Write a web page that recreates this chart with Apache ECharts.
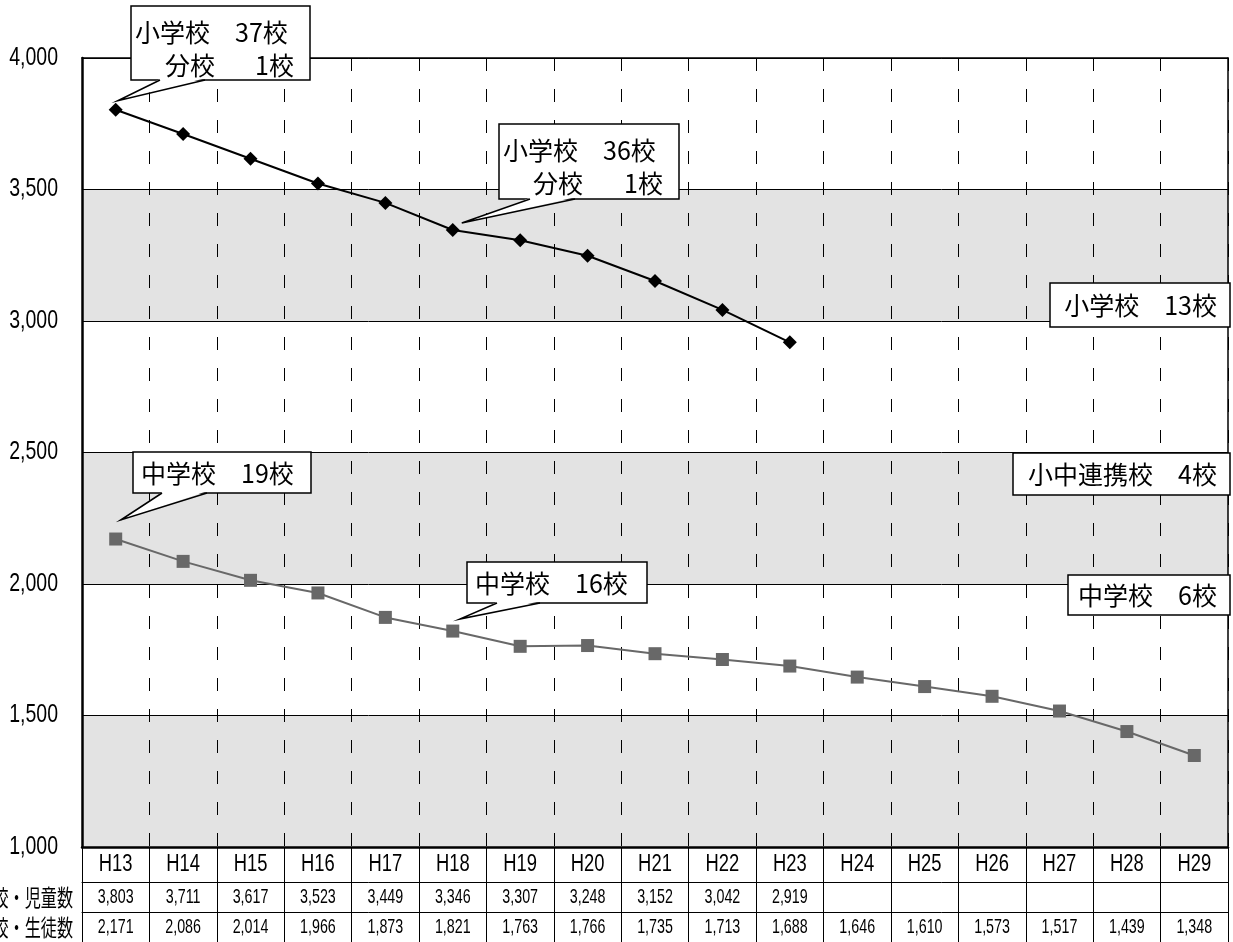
<!DOCTYPE html>
<html>
<head>
<meta charset="utf-8">
<script src="https://cdn.jsdelivr.net/npm/echarts@6/dist/echarts.min.js"></script>
<style>
  html, body { margin: 0; padding: 0; background: #fff; }
  #chart { width: 1233px; height: 942px; }
</style>
</head>
<body>
<div id="chart"></div>
<script>
// 年度
const categories = ['H13', 'H14', 'H15', 'H16', 'H17', 'H18', 'H19', 'H20', 'H21',
  'H22', 'H23', 'H24', 'H25', 'H26', 'H27', 'H28', 'H29']
// 小学校・児童数 (H23まで)
const pupils = [3803, 3711, 3617, 3523, 3449, 3346, 3307, 3248, 3152, 3042, 2919]
// 中学校・生徒数
const students = [2171, 2086, 2014, 1966, 1873, 1821, 1763, 1766, 1735, 1713, 1688,
  1646, 1610, 1573, 1517, 1439, 1348]
const rowNames = ['小学校・児童数', '中学校・生徒数']
const yMin = 1000
const yMax = 4000
const yStep = 500

const NUM = "'Liberation Sans', Arial, sans-serif"
const JP = "'Noto Sans CJK JP', sans-serif"
const fmt = v => (v === undefined || v === null) ? '' : Number(v).toLocaleString('en-US')

const dom = document.getElementById('chart')
const myChart = echarts.init(dom, null, { renderer: 'canvas' })

const lineAxis = (offset, position, width) => ({
  type: 'category',
  position: position,
  offset: offset,
  boundaryGap: true,
  data: categories,
  axisLine: { show: true, lineStyle: { color: '#000', width: width } },
  axisTick: { show: false },
  axisLabel: { show: false },
  splitLine: { show: false },
})

const option = {
  animation: false,
  backgroundColor: '#fff',
  grid: { left: 82, right: 5, top: 58, bottom: 95, show: false },
  xAxis: [
    {
      type: 'category',
      position: 'bottom',
      boundaryGap: true,
      data: categories,
      axisLine: { show: true, lineStyle: { color: '#000', width: 2.5 } },
      axisTick: { show: true, interval: 0, length: 95, lineStyle: { color: '#000', width: 1 } },
      axisLabel: { show: false },
      splitLine: { show: true, interval: 0, lineStyle: { color: '#000', width: 1, type: [13, 18] } },
    },
    lineAxis(35, 'bottom', 1),
    lineAxis(65, 'bottom', 1),
    lineAxis(0, 'top', 1.5),
  ],
  yAxis: [
    {
      type: 'value',
      min: yMin,
      max: yMax,
      interval: yStep,
      axisLine: { show: true, lineStyle: { color: '#000', width: 2.5 } },
      axisTick: { show: false },
      axisLabel: { show: false },
      splitLine: { show: true, lineStyle: { color: '#000', width: 1 } },
      splitArea: { show: true, areaStyle: { color: ['#e3e3e3', '#ffffff'] } },
    },
    {
      type: 'value',
      position: 'right',
      min: yMin,
      max: yMax,
      interval: yStep,
      axisLine: { show: true, lineStyle: { color: '#000', width: 1.5 } },
      axisTick: { show: false },
      axisLabel: { show: false },
      splitLine: { show: false },
    },
  ],
  series: [
    {
      name: '小学校・児童数',
      type: 'line',
      data: pupils,
      symbol: 'diamond',
      symbolSize: 14,
      itemStyle: { color: '#000' },
      lineStyle: { color: '#000', width: 2 },
      z: 5,
    },
    {
      name: '中学校・生徒数',
      type: 'line',
      data: students,
      symbol: 'rect',
      symbolSize: 13,
      itemStyle: { color: '#686868' },
      lineStyle: { color: '#686868', width: 2 },
      z: 5,
    },
  ],
}
myChart.setOption(option, true)

// 吹き出し (先端の位置はデータ点から)
const callouts = [
  { s: 0, i: 0, tip: [2, -9], box: [131, 6, 179, 74], base: [160, 205],
    texts: [['小学校　37校', 4, 26, 'left'], ['分校', 84, 59, 'right'], ['1校', 163, 59, 'right']] },
  { s: 0, i: 5, tip: [9, -7], box: [499, 124, 180, 75], base: [530, 575],
    texts: [['小学校　36校', 4, 26, 'left'], ['分校', 84, 59, 'right'], ['1校', 164, 59, 'right']] },
  { s: 1, i: 0, tip: [5, -19], box: [133, 452, 178, 41], base: [162, 207],
    texts: [['中学校　19校', 8, 21, 'left']] },
  { s: 1, i: 5, tip: [7, -12], box: [467, 562, 180, 41], base: [497, 540],
    texts: [['中学校　16校', 8, 21, 'left']] },
]
const plainBoxes = [
  { box: [1050, 283, 180, 44], text: '小学校　13校' },
  { box: [1013, 453, 217, 42], text: '小中連携校　4校' },
  { box: [1068, 575, 162, 40], text: '中学校　6校' },
]

const elements = []
const jpText = (t, x, y, align) => ({
  type: 'text', z: 103, x: x, y: y,
  style: { text: t, font: '25px ' + JP, fill: '#000', align: align, verticalAlign: 'middle' },
})
const numText = (t, x, y, size, sx, align) => ({
  type: 'text', z: 103, x: x, y: y, scaleX: sx,
  style: { text: t, font: size + 'px ' + NUM, fill: '#000', align: align, verticalAlign: 'middle' },
})

callouts.forEach(c => {
  const values = c.s === 0 ? pupils : students
  const p = myChart.convertToPixel({ seriesIndex: c.s }, [c.i, values[c.i]])
  const tip = [p[0] + c.tip[0], p[1] + c.tip[1]]
  const [bx, by, bw, bh] = c.box
  const bottom = by + bh
  elements.push({ type: 'rect', z: 100, shape: { x: bx, y: by, width: bw, height: bh },
    style: { fill: '#fff', stroke: '#000', lineWidth: 1.5 } })
  elements.push({ type: 'polygon', z: 101,
    shape: { points: [[c.base[0] + 1, bottom - 1.5], [c.base[1] - 1, bottom - 1.5], tip] },
    style: { fill: '#fff' } })
  elements.push({ type: 'polyline', z: 102,
    shape: { points: [[c.base[0], bottom], tip, [c.base[1], bottom]] },
    style: { stroke: '#000', lineWidth: 1.5, fill: null } })
  c.texts.forEach(t => elements.push(jpText(t[0], bx + t[1], by + t[2], t[3])))
})
plainBoxes.forEach(b => {
  const [bx, by, bw, bh] = b.box
  elements.push({ type: 'rect', z: 100, shape: { x: bx, y: by, width: bw, height: bh },
    style: { fill: '#fff', stroke: '#000', lineWidth: 1.5 } })
  elements.push(jpText(b.text, bx + bw - 13, by + bh / 2, 'right'))
})

// Y軸の目盛ラベル (縦長の数字)
for (let v = yMin; v <= yMax; v += yStep) {
  const y = myChart.convertToPixel({ yAxisIndex: 0 }, v)
  elements.push(numText(fmt(v), 58, y, 25, 0.78, 'right'))
}

// 表: 年度 / 児童数 / 生徒数
const base = myChart.convertToPixel({ yAxisIndex: 0 }, yMin)
categories.forEach((c, i) => {
  const x = myChart.convertToPixel({ xAxisIndex: 0 }, i)
  elements.push(numText(c, x, base + 18, 23, 0.8, 'center'))
  if (pupils[i] !== undefined) elements.push(numText(fmt(pupils[i]), x, base + 50, 21, 0.68, 'center'))
  if (students[i] !== undefined) elements.push(numText(fmt(students[i]), x, base + 80, 21, 0.68, 'center'))
})
rowNames.forEach((name, k) => {
  elements.push({
    type: 'text', z: 103, x: 73, y: base + 50 + k * 30, scaleX: 0.7,
    style: { text: name, font: '23px ' + JP, fill: '#000', align: 'right', verticalAlign: 'middle' },
  })
})
myChart.setOption({ graphic: { elements: elements } })

window.addEventListener('resize', () => myChart.resize())
</script>
</body>
</html>
